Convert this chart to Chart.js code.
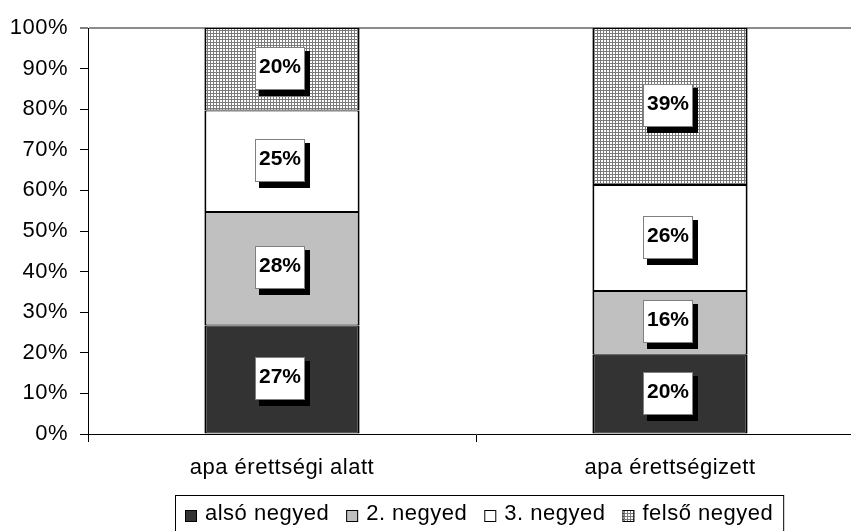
<!DOCTYPE html>
<html>
<head>
<meta charset="utf-8">
<script src="https://cdn.jsdelivr.net/npm/chart.js@4.4.1/dist/chart.umd.min.js"></script>
<style>
  html, body { margin: 0; padding: 0; background: #ffffff; overflow: hidden; width: 851px; height: 531px; }
  canvas { display: block; }
</style>
</head>
<body>
<canvas id="chart" width="864" height="531"></canvas>
<script>
// Categories, series and values (percent of each group)
const categories = ['apa érettségi alatt', 'apa érettségizett'];
const seriesNames = ['alsó negyed', '2. negyed', '3. negyed', 'felső negyed'];
const alsoNegyed = [26.7, 19.5];
const masodikNegyed = [28.0, 15.7];
const harmadikNegyed = [25.0, 26.1];
const felsoNegyed = [20.3, 38.7];
const yTickStep = 10;

const FONT = '"Liberation Sans", Arial, Helvetica, sans-serif';
const SPACING = '0.5px';
const canvas = document.getElementById('chart');
const mainCtx = canvas.getContext('2d');

// Fine grey grid hatch for the top quarter
function gridPattern(ctx) {
  const c = document.createElement('canvas');
  c.width = 3; c.height = 3;
  const g = c.getContext('2d');
  g.fillStyle = '#ffffff';
  g.fillRect(0, 0, 3, 3);
  g.fillStyle = '#7a7a7a';
  g.fillRect(0, 0, 3, 1);
  g.fillRect(0, 0, 1, 3);
  return ctx.createPattern(c, 'repeat');
}
const hatch = gridPattern(mainCtx);
const fills = ['#333333', '#c0c0c0', '#ffffff', hatch];
const seriesValues = [alsoNegyed, masodikNegyed, harmadikNegyed, felsoNegyed];

// Slightly wider letter spacing for axis text
const spacingPlugin = {
  id: 'spacing',
  beforeUpdate(chart) { chart.ctx.letterSpacing = SPACING; },
  beforeDraw(chart) { chart.ctx.letterSpacing = SPACING; }
};

// Value boxes with a drop shadow in the middle of each segment
const valueBoxes = {
  id: 'valueBoxes',
  afterDatasetsDraw(chart) {
    const ctx = chart.ctx;
    ctx.save();
    ctx.letterSpacing = '0px';
    chart.data.datasets.forEach((ds, i) => {
      const meta = chart.getDatasetMeta(i);
      meta.data.forEach((bar, j) => {
        const { x, y, base } = bar.getProps(['x', 'y', 'base'], true);
        const cx = x - 2;
        const cy = (y + base) / 2 - 1;
        const w = 50, h = 43;
        const bx = Math.round(cx - w / 2);
        const by = Math.round(cy - h / 2);
        ctx.fillStyle = '#000000';
        ctx.fillRect(bx + 4, by + 4, w + 1, h + 2);
        ctx.fillStyle = '#ffffff';
        ctx.fillRect(bx, by, w, h);
        ctx.strokeStyle = '#808080';
        ctx.lineWidth = 1;
        ctx.strokeRect(bx + 0.5, by + 0.5, w - 1, h - 1);
        ctx.fillStyle = '#000000';
        ctx.font = 'bold 21px ' + FONT;
        ctx.textAlign = 'center';
        ctx.textBaseline = 'middle';
        ctx.fillText(Math.round(ds.data[j]) + '%', bx + w / 2, by + h / 2 - 1);
      });
    });
    ctx.restore();
  }
};

// Boxed legend along the bottom edge
const boxedLegend = {
  id: 'boxedLegend',
  afterDraw(chart) {
    const ctx = chart.ctx;
    ctx.save();
    ctx.font = '22px ' + FONT;
    ctx.letterSpacing = SPACING;
    const box = 12, textGap = 8, itemGap = 17;
    const names = chart.data.datasets.map(d => d.label);
    const widths = names.map(n => ctx.measureText(n).width);
    const total = widths.reduce((s, w) => s + box + textGap + w, 0) + itemGap * (names.length - 1);
    const centerX = (chart.chartArea.left + chart.chartArea.right) / 2 + 3;
    let x = Math.round(centerX - total / 2);
    const top = 495;
    ctx.strokeStyle = '#000000';
    ctx.lineWidth = 1;
    ctx.strokeRect(x - 10 + 0.5, top + 0.5, total + 20, 50);
    ctx.textAlign = 'left';
    ctx.textBaseline = 'middle';
    chart.data.datasets.forEach((d, i) => {
      ctx.fillStyle = d.backgroundColor;
      ctx.fillRect(x, 510, box, box);
      ctx.strokeStyle = '#000000';
      ctx.strokeRect(x + 0.5, 510.5, box - 1, box - 1);
      ctx.fillStyle = '#000000';
      ctx.fillText(names[i], x + box + textGap, 514);
      x += box + textGap + widths[i] + itemGap;
    });
    ctx.restore();
  }
};

Chart.defaults.font.family = FONT;
Chart.defaults.font.size = 22;
Chart.defaults.color = '#000000';

new Chart(mainCtx, {
  type: 'bar',
  data: {
    labels: categories,
    datasets: seriesNames.map((name, i) => ({
      label: name,
      data: seriesValues[i],
      backgroundColor: fills[i],
      borderColor: '#000000',
      borderWidth: { left: 2, right: 2, top: 1, bottom: 1 },
      borderSkipped: false,
      barPercentage: 0.4,
      categoryPercentage: 1.0
    }))
  },
  options: {
    responsive: false,
    animation: false,
    devicePixelRatio: 1,
    layout: { padding: { top: 28, right: 0, bottom: 0, left: 0 } },
    plugins: {
      legend: { display: false },
      tooltip: { enabled: false },
      title: { display: false }
    },
    scales: {
      x: {
        stacked: true,
        offset: true,
        grid: {
          offset: true,
          drawOnChartArea: false,
          tickLength: 8,
          color: '#000000',
          tickColor: '#000000',
          tickWidth: 1
        },
        border: { display: true, color: '#000000', width: 1 },
        ticks: { color: '#000000', padding: 13, maxRotation: 0, autoSkip: false },
        afterFit(scale) { scale.height = 97; }
      },
      y: {
        stacked: true,
        min: 0,
        max: 100,
        grid: {
          drawOnChartArea: true,
          color: c => (c.tick && c.tick.value === 100) ? '#8c8c8c' : 'rgba(0,0,0,0)',
          lineWidth: c => (c.tick && c.tick.value === 100) ? 2 : 1,
          tickColor: '#000000',
          tickWidth: 1,
          tickLength: 8
        },
        border: { display: true, color: '#000000', width: 1 },
        ticks: {
          stepSize: yTickStep,
          padding: 12,
          color: '#000000',
          callback: v => v + '%'
        },
        afterFit(scale) { scale.width = 88; }
      }
    }
  },
  plugins: [spacingPlugin, valueBoxes, boxedLegend]
});
</script>
</body>
</html>
